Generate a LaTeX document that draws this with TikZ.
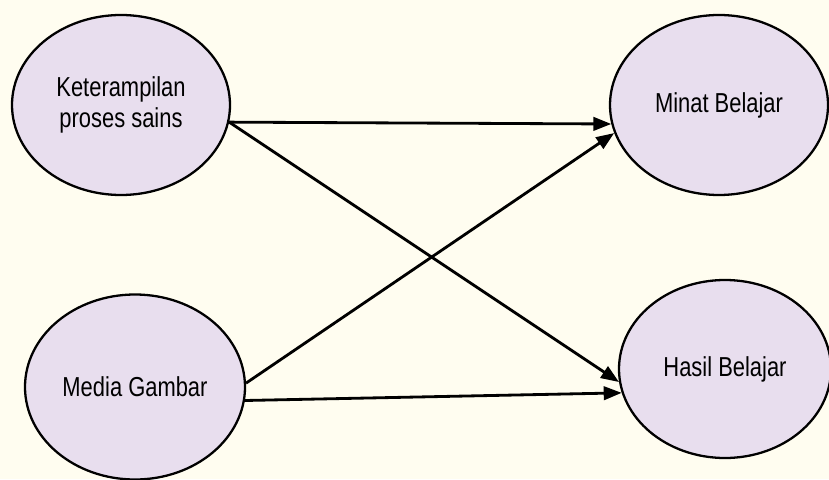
\documentclass[tikz,border=0pt]{standalone}
\usepackage{fontspec}
\setmainfont{Liberation Sans}
\newfontfamily\tallsans{Liberation Sans}[FakeStretch=0.8]
\usepackage{tikz}
\usetikzlibrary{shapes.geometric,arrows.meta,positioning}
\definecolor{paper}{RGB}{255,253,240}
\definecolor{lavender}{RGB}{232,222,238}

\begin{document}
\begin{tikzpicture}[>={Triangle[length=0.36cm,width=0.27cm]},line width=1.6pt,on grid,
  var/.style={ellipse,draw,line width=1.3pt,fill=lavender,minimum width=4.36cm,minimum height=3.6cm,
    align=center,font=\tallsans\fontsize{15.6}{17.6}\selectfont,inner sep=0pt}]
\useasboundingbox[fill=paper] (0,0) rectangle (16.58,9.58);
\node[var] (kps) at (2.42,7.48) {Keterampilan\\proses sains};
\node[var] (minat) [right=11.96cm of kps] {Minat Belajar};
\node[var,minimum width=4.4cm,minimum height=3.7cm] (media) [below=5.64cm of kps,xshift=0.28cm] {Media Gambar};
\node[var,minimum width=4.24cm,minimum height=3.56cm] (hasil) [below=5.28cm of minat,xshift=0.12cm] {Hasil Belajar};
\path[->]
(kps.-9) edge (minat.190) edge (hasil.187)
(media.2) edge (minat.195)
(media.-7) edge (hasil.193);
\end{tikzpicture}
\end{document}
